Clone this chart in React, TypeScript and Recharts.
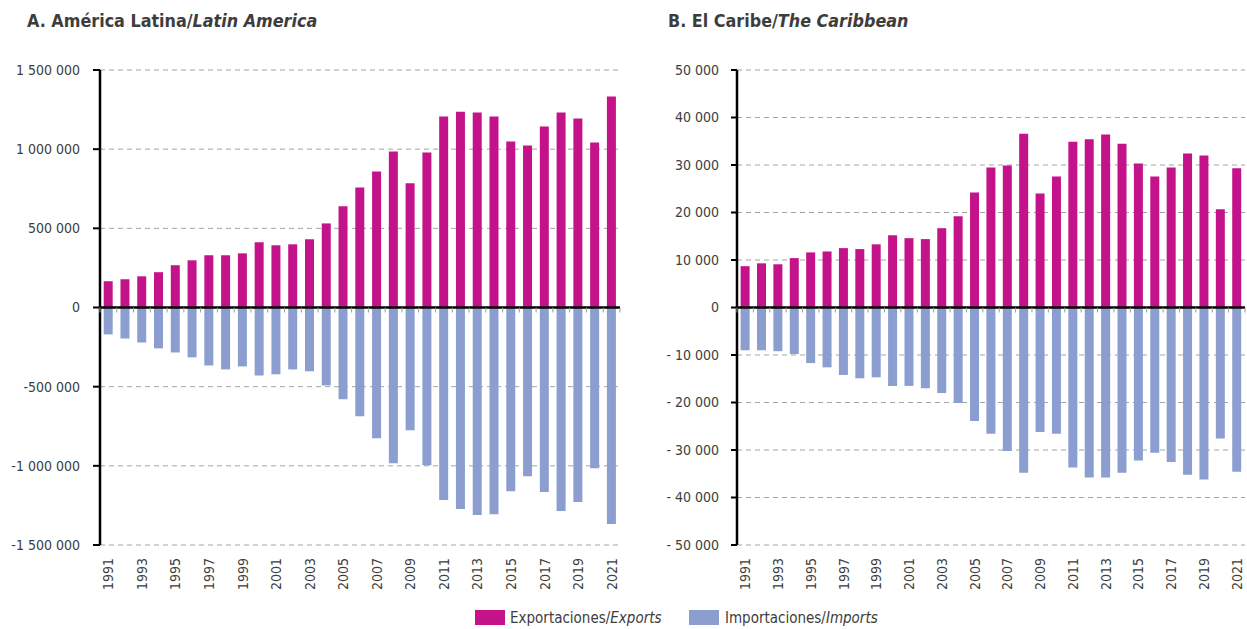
import React from 'react';
import { BarChart, Bar, XAxis, YAxis, CartesianGrid, ReferenceLine } from 'recharts';

const years = ['1991','1992','1993','1994','1995','1996','1997','1998','1999','2000','2001','2002','2003','2004','2005','2006','2007','2008','2009','2010','2011','2012','2013','2014','2015','2016','2017','2018','2019','2020','2021'];

const laExports = [166000,179000,197000,223000,267000,298000,330000,330000,342000,412000,393000,399000,431000,531000,639000,758000,859000,985000,784000,979000,1206000,1237000,1231000,1206000,1048000,1023000,1143000,1231000,1193000,1042000,1332000];
const laImports = [-170000,-195000,-221000,-258000,-284000,-315000,-366000,-391000,-372000,-429000,-422000,-391000,-403000,-492000,-580000,-687000,-826000,-983000,-775000,-996000,-1216000,-1273000,-1311000,-1305000,-1160000,-1065000,-1166000,-1286000,-1229000,-1015000,-1368000];

const cbExports = [8700,9300,9100,10400,11600,11800,12500,12300,13300,15200,14600,14400,16700,19200,24200,29500,29900,36600,24000,27600,34900,35400,36400,34500,30300,27600,29500,32400,32000,20700,29300];
const cbImports = [-9000,-9000,-9200,-9800,-11700,-12600,-14200,-14900,-14700,-16500,-16500,-17000,-18000,-20100,-23900,-26600,-30200,-34800,-26200,-26600,-33700,-35800,-35800,-34800,-32200,-30600,-32500,-35200,-36200,-27600,-34600];

const laTicks = [-1500000,-1000000,-500000,0,500000,1000000,1500000];
const cbTicks = [-50000,-40000,-30000,-20000,-10000,0,10000,20000,30000,40000,50000];

const EXP_COLOR = '#C4138A';
const IMP_COLOR = '#8C9ECF';
const TEXT = '#3d3d3d';
const FONT = '"Liberation Sans Narrow", "DejaVu Sans Condensed", "Arial Narrow", sans-serif';

const laData = years.map((y, i) => ({ year: y, exp: laExports[i], imp: laImports[i] }));
const cbData = years.map((y, i) => ({ year: y, exp: cbExports[i], imp: cbImports[i] }));

const group = (n: number) => Math.abs(n).toString().replace(/\B(?=(\d{3})+(?!\d))/g, ' ');
const fmtLA = (v: number) => (v < 0 ? '-' : '') + group(v);
const fmtCB = (v: number) => (v < 0 ? '- ' : '') + group(v);

const H = 629;
const TOP = 70;
const XH = 84;
const PLOT_H = H - TOP - XH;

function makeXTick(band: number) {
  const zeroY = TOP + PLOT_H / 2;
  return (props: any) => {
    const { x, y, payload, index } = props;
    const left = x - band / 2;
    const right = x + band / 2;
    return (
      <g>
        <line x1={left} x2={left} y1={zeroY} y2={zeroY + 5} stroke="#9a9a9a" strokeWidth={1} />
        {index === years.length - 1 && (
          <line x1={right} x2={right} y1={zeroY} y2={zeroY + 5} stroke="#9a9a9a" strokeWidth={1} />
        )}
        {index % 2 === 0 && (
          <text
            x={x}
            y={y}
            transform={`rotate(-90, ${x}, ${y})`}
            textAnchor="end"
            dominantBaseline="central"
            fontFamily={FONT}
            fontSize={14}
            fill={TEXT}
          >
            {payload.value}
          </text>
        )}
      </g>
    );
  };
}

function Panel(props: {
  data: any[];
  ticks: number[];
  fmt: (v: number) => string;
  width: number;
  yWidth: number;
  right: number;
  tickSize: number;
  tickMargin: number;
}) {
  const { data, ticks, fmt, width, yWidth, right, tickSize, tickMargin } = props;
  const plotW = width - yWidth - right;
  const band = plotW / data.length;
  const dom = [ticks[0], ticks[ticks.length - 1]];
  return (
    <BarChart
      width={width}
      height={H}
      data={data}
      stackOffset="sign"
      barCategoryGap="22%"
      margin={{ top: TOP, right, left: 0, bottom: 0 }}
    >
      <CartesianGrid vertical={false} stroke="#a3a3a3" strokeDasharray="5 4" />
      <XAxis
        dataKey="year"
        interval={0}
        height={XH}
        axisLine={false}
        tickLine={false}
        tickSize={0}
        tickMargin={13}
        tick={makeXTick(band)}
      />
      <YAxis
        width={yWidth}
        domain={dom}
        ticks={ticks}
        interval={0}
        tickFormatter={fmt}
        axisLine={{ stroke: '#000', strokeWidth: 2.5 }}
        tickLine={{ stroke: '#000', strokeWidth: 2 }}
        tickSize={tickSize}
        tickMargin={tickMargin}
        tick={{ fontFamily: FONT, fontSize: 14, fill: TEXT }}
      />
      <Bar dataKey="exp" stackId="s" fill={EXP_COLOR} isAnimationActive={false} />
      <Bar dataKey="imp" stackId="s" fill={IMP_COLOR} isAnimationActive={false} />
      <ReferenceLine y={0} stroke="#000" strokeWidth={2.5} />
    </BarChart>
  );
}

const titleStyle: React.CSSProperties = {
  position: 'absolute',
  top: 9,
  fontFamily: FONT,
  fontWeight: 'bold',
  fontSize: 17.8,
  color: TEXT,
  whiteSpace: 'nowrap',
  lineHeight: '24px',
};

const legendText: React.CSSProperties = {
  position: 'absolute',
  top: 608,
  fontFamily: FONT,
  fontSize: 15,
  color: TEXT,
  whiteSpace: 'nowrap',
  lineHeight: '20px',
};

export default function App() {
  return (
    <div
      style={{
        position: 'absolute',
        left: 0,
        top: 0,
        width: 1247,
        height: 629,
        overflow: 'hidden',
        background: '#fff',
      }}
    >
      <div style={{ ...titleStyle, left: 27 }}>
        A. América Latina/<i>Latin America</i>
      </div>
      <div style={{ ...titleStyle, left: 668 }}>
        B. El Caribe/<i>The Caribbean</i>
      </div>
      <div style={{ position: 'absolute', left: 0, top: 0 }}>
        <Panel data={laData} ticks={laTicks} fmt={fmtLA} width={640} yWidth={100} right={20} tickSize={7} tickMargin={13} />
      </div>
      <div style={{ position: 'absolute', left: 640, top: 0 }}>
        <Panel data={cbData} ticks={cbTicks} fmt={fmtCB} width={620} yWidth={97} right={15} tickSize={6} tickMargin={12} />
      </div>
      <div style={{ position: 'absolute', left: 475, top: 610, width: 30, height: 15, background: EXP_COLOR }} />
      <div style={{ ...legendText, left: 510 }}>
        Exportaciones/<i>Exports</i>
      </div>
      <div style={{ position: 'absolute', left: 689, top: 610, width: 30, height: 15, background: IMP_COLOR }} />
      <div style={{ ...legendText, left: 725 }}>
        Importaciones/<i>Imports</i>
      </div>
    </div>
  );
}
